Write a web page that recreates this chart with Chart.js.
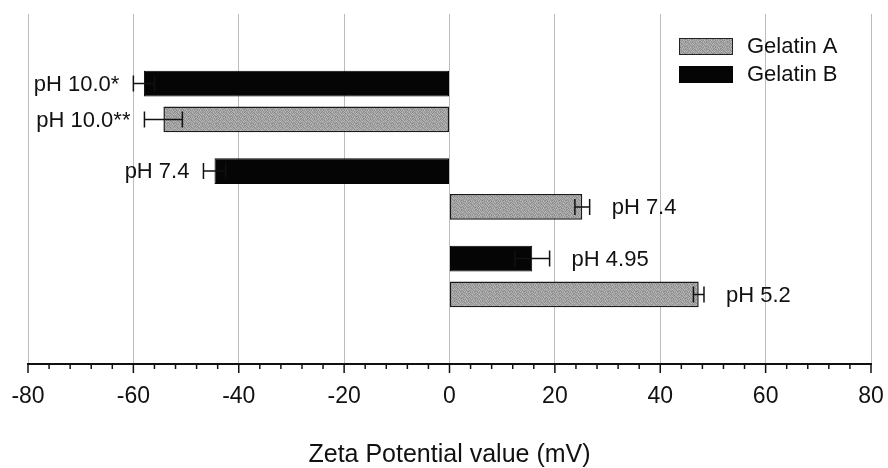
<!DOCTYPE html>
<html>
<head>
<meta charset="utf-8">
<script src="https://cdn.jsdelivr.net/npm/chart.js@4.4.1/dist/chart.umd.min.js"></script>
<style>
  html, body { margin: 0; padding: 0; background: #fff; }
  #wrap { width: 888px; height: 468px; }
</style>
</head>
<body>
<div id="wrap"><canvas id="zetaChart" width="888" height="468"></canvas></div>
<script>
// Rows (empty slots at both ends keep the spacing of the original)
const groups = ['', 'pH 10.0', 'pH 7.4', 'pH 5', ''];

// Gelatin B (black bars)
const gelatinB = [null, -58.0, -44.6, 15.7, null];
const gelatinBErr = [null, 2.0, 2.1, 3.3, null];
const gelatinBLabels = ['', 'pH 10.0*', 'pH 7.4', 'pH 4.95', ''];

// Gelatin A (grey bars)
const gelatinA = [null, -54.3, 25.2, 47.3, null];
const gelatinAErr = [null, 3.6, 1.4, 1.0, null];
const gelatinALabels = ['', 'pH 10.0**', 'pH 7.4', 'pH 5.2', ''];

// x axis
const xMin = -80, xMax = 80, xMinorStep = 4, xMajorStep = 20;

const FONT = '"Liberation Sans", Arial, sans-serif';

// stippled grey fill for Gelatin A
function makeGreyPattern() {
    const shades = [
        [172, 140, 160, 185, 150, 168, 142],
        [150, 178, 136, 162, 176, 139, 181],
        [186, 158, 170, 145, 160, 188, 154],
        [140, 168, 152, 182, 138, 164, 171],
        [165, 148, 184, 155, 174, 146, 136],
        [179, 137, 163, 141, 189, 157, 167],
        [147, 183, 156, 173, 151, 180, 143]
    ];
    const n = shades.length;
    const c = document.createElement('canvas');
    c.width = n; c.height = n;
    const g = c.getContext('2d');
    for (let y = 0; y < n; y++) {
        for (let x = 0; x < n; x++) {
            const v = shades[y][x];
            g.fillStyle = 'rgb(' + v + ',' + v + ',' + v + ')';
            g.fillRect(x, y, 1, 1);
        }
    }
    return g.createPattern(c, 'repeat');
}

const ctx = document.getElementById('zetaChart').getContext('2d');
const greyFill = makeGreyPattern();

// error bars, bar labels, minor ticks, legend
const extrasPlugin = {
    id: 'extras',
    afterDatasetsDraw(chart) {
        const c = chart.ctx;
        const xs = chart.scales.x;
        const sets = [
            { meta: chart.getDatasetMeta(0), vals: gelatinB, errs: gelatinBErr, labels: gelatinBLabels },
            { meta: chart.getDatasetMeta(1), vals: gelatinA, errs: gelatinAErr, labels: gelatinALabels }
        ];
        c.save();
        c.strokeStyle = '#111';
        c.fillStyle = '#111';
        c.lineWidth = 1.5;
        c.font = '22px ' + FONT;
        c.textBaseline = 'middle';
        sets.forEach(function(s) {
            s.vals.forEach(function(v, i) {
                if (v === null) return;
                const y = s.meta.data[i].y;
                const lo = xs.getPixelForValue(v - s.errs[i]);
                const hi = xs.getPixelForValue(v + s.errs[i]);
                c.beginPath();
                c.moveTo(lo, y); c.lineTo(hi, y);
                c.moveTo(lo, y - 8); c.lineTo(lo, y + 8);
                c.moveTo(hi, y - 8); c.lineTo(hi, y + 8);
                c.stroke();
                if (v < 0) {
                    c.textAlign = 'right';
                    c.fillText(s.labels[i], lo - 14, y + 1);
                } else {
                    c.textAlign = 'left';
                    c.fillText(s.labels[i], hi + 22, y + 1);
                }
            });
        });
        c.restore();
    },
    afterDraw(chart) {
        const c = chart.ctx;
        const xs = chart.scales.x;
        const base = chart.chartArea.bottom;
        c.save();
        c.strokeStyle = '#111';
        c.lineWidth = 1.5;
        xs.ticks.forEach(function(t) {
            const x = xs.getPixelForValue(t.value);
            const len = (t.value % xMajorStep === 0) ? 9 : 5;
            c.beginPath();
            c.moveTo(x, base);
            c.lineTo(x, base + len);
            c.stroke();
        });

        // legend
        c.font = '22px ' + FONT;
        c.textBaseline = 'middle';
        c.textAlign = 'left';
        c.fillStyle = greyFill;
        c.fillRect(679, 38, 54, 17);
        c.strokeStyle = '#222';
        c.lineWidth = 1;
        c.strokeRect(679.5, 38.5, 53, 16);
        c.fillStyle = '#050505';
        c.fillRect(679, 66, 54, 17);
        c.fillStyle = '#111';
        c.fillText('Gelatin A', 747, 47);
        c.fillText('Gelatin B', 747, 75);
        c.restore();
    }
};

new Chart(ctx, {
    type: 'bar',
    data: {
        labels: groups,
        datasets: [{
            label: 'Gelatin B',
            data: gelatinB,
            backgroundColor: '#050505',
            borderColor: '#050505',
            borderWidth: 1,
            borderSkipped: false
        }, {
            label: 'Gelatin A',
            data: gelatinA,
            backgroundColor: greyFill,
            borderColor: '#1a1a1a',
            borderWidth: 1.5,
            borderSkipped: false
        }]
    },
    options: {
        indexAxis: 'y',
        responsive: false,
        animation: false,
        categoryPercentage: 0.82,
        barPercentage: 0.72,
        layout: { padding: { left: 28, right: 17, top: 14, bottom: 0 } },
        plugins: {
            legend: { display: false },
            tooltip: { enabled: false }
        },
        scales: {
            x: {
                type: 'linear',
                min: xMin,
                max: xMax,
                afterFit: function(scale) {
                    scale.height = 104;
                    scale.paddingLeft = 0;
                    scale.paddingRight = 0;
                },
                ticks: {
                    stepSize: xMinorStep,
                    autoSkip: false,
                    maxRotation: 0,
                    padding: 12,
                    color: '#111',
                    font: { family: FONT, size: 23, lineHeight: 1 },
                    callback: function(v) { return v % xMajorStep === 0 ? String(v) : ''; }
                },
                grid: {
                    drawTicks: true,
                    tickLength: 9,
                    tickColor: 'rgba(0,0,0,0)',
                    lineWidth: 1,
                    color: function(c) {
                        return (c.tick && c.tick.value % xMajorStep === 0) ? '#bcbcbc' : 'rgba(0,0,0,0)';
                    }
                },
                border: { display: true, color: '#111', width: 2 },
                title: {
                    display: true,
                    text: 'Zeta Potential value (mV)',
                    color: '#111',
                    font: { family: FONT, size: 25, lineHeight: 1 },
                    padding: { top: 37, bottom: 0 }
                }
            },
            y: {
                type: 'category',
                display: false,
                offset: false,
                grid: { display: false, offset: false }
            }
        }
    },
    plugins: [extrasPlugin]
});
</script>
</body>
</html>
